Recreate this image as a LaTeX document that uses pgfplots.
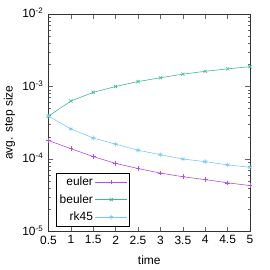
\documentclass[border=0pt]{standalone}
\usepackage{pgfplots}
\pgfplotsset{compat=1.18}
\usepackage{fontspec}
\setmainfont{Liberation Sans}
\definecolor{cE}{HTML}{B54CE6}
\definecolor{cB}{HTML}{3DBB94}
\definecolor{cR}{HTML}{7CC9F0}
\begin{document}
\fontsize{12}{14}\selectfont
\begin{tikzpicture}
\begin{axis}[
  scale only axis, width=202pt, height=218pt,
  ymode=log, xmin=0.5, xmax=5, ymin=1e-5, ymax=1e-2,
  xtick={0.5,1,...,5},
  xticklabels={0.5,1,1.5,2,2.5,3,3.5,4,4.5,5},
  ytick={1e-5,1e-4,1e-3,1e-2},
  yticklabels={10\textsuperscript{-5},10\textsuperscript{-4},10\textsuperscript{-3},10\textsuperscript{-2}},
  /pgf/number format/assume math mode=true,
  tick align=inside, tick pos=both,
  major tick length=5pt, minor tick length=2.5pt,
  every tick/.style={black!60, line width=0.6pt},
  axis line style={black!80, line width=0.8pt},
  yticklabel style={xshift=-1pt, yshift=1pt},
  xlabel={time}, ylabel={avg. step size},
  xlabel style={yshift=-3pt}, ylabel style={yshift=-1pt},
  legend plot pos=right,
  legend cell align=right,
  legend style={at={(0.035,0.023)}, anchor=south west, row sep=3pt, inner sep=2pt},
  legend image code/.code={\draw[mark repeat=2, mark phase=2] plot coordinates {(0pt,0pt)(16pt,0pt)(32pt,0pt)};},
  every axis plot/.append style={line width=0.6pt, mark size=2.3pt},
]
\addplot[color=cE, mark=+] coordinates {(0.5,1.8e-4)(1,1.39e-4)(1.5,1.08e-4)(2,8.7e-5)(2.5,7.4e-5)(3,6.4e-5)(3.5,5.7e-5)(4,5.2e-5)(4.5,4.7e-5)(5,4.3e-5)};
\addlegendentry{euler}
\addplot[color=cB, mark=x] coordinates {(0.5,3.9e-4)(1,6.3e-4)(1.5,8.3e-4)(2,1.0e-3)(2.5,1.17e-3)(3,1.32e-3)(3.5,1.48e-3)(4,1.62e-3)(4.5,1.75e-3)(5,1.88e-3)};
\addlegendentry{beuler}
\addplot[color=cR, mark=asterisk] coordinates {(0.5,3.9e-4)(1,2.6e-4)(1.5,1.95e-4)(2,1.6e-4)(2.5,1.32e-4)(3,1.15e-4)(3.5,1.0e-4)(4,9.2e-5)(4.5,8.3e-5)(5,7.7e-5)};
\addlegendentry{rk45}
\end{axis}
\path (current axis.south west) ++(-48pt,-38pt) rectangle ++(270pt,270pt);
\end{tikzpicture}
\end{document}
